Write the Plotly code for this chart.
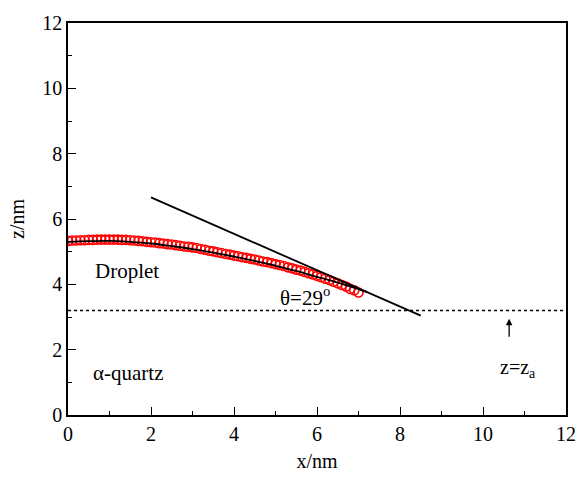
import plotly.graph_objects as go

# Simulated droplet profile (red open circles)
x_data = [0.0, 0.1, 0.2, 0.3, 0.4, 0.5, 0.6, 0.7, 0.8, 0.9,
          1.0, 1.1, 1.2, 1.3, 1.4, 1.5, 1.6, 1.7, 1.8, 1.9,
          2.0, 2.1, 2.2, 2.3, 2.4, 2.5, 2.6, 2.7, 2.8, 2.9,
          3.0, 3.1, 3.2, 3.3, 3.4, 3.5, 3.6, 3.7, 3.8, 3.9,
          4.0, 4.1, 4.2, 4.3, 4.4, 4.5, 4.6, 4.7, 4.8, 4.9,
          5.0, 5.1, 5.2, 5.3, 5.4, 5.5, 5.6, 5.7, 5.8, 5.9,
          6.0, 6.1, 6.2, 6.3, 6.4, 6.5, 6.6, 6.7, 6.8, 6.9, 7.0]
z_data = [5.33, 5.34, 5.34, 5.35, 5.35, 5.36, 5.36, 5.37, 5.37, 5.37,
          5.37, 5.37, 5.37, 5.36, 5.36, 5.35, 5.34, 5.33, 5.32, 5.30,
          5.29, 5.28, 5.26, 5.25, 5.23, 5.22, 5.20, 5.18, 5.16, 5.15,
          5.13, 5.11, 5.08, 5.06, 5.03, 5.01, 4.98, 4.96, 4.93, 4.91,
          4.88, 4.86, 4.83, 4.81, 4.78, 4.76, 4.73, 4.70, 4.68, 4.65,
          4.62, 4.59, 4.56, 4.52, 4.49, 4.45, 4.42, 4.38, 4.34, 4.30,
          4.26, 4.22, 4.17, 4.13, 4.08, 4.03, 3.98, 3.93, 3.86, 3.82, 3.75]

# Circle fit of the profile (black line)
x_fit = [0.0, 0.5, 1.0, 1.5, 2.0, 2.5, 3.0, 3.5, 4.0, 4.5, 5.0, 5.5, 6.0, 6.5, 7.0, 7.2]
z_fit = [5.30, 5.32, 5.33, 5.30, 5.25, 5.17, 5.08, 4.97, 4.85, 4.72, 4.57, 4.41, 4.23, 4.05, 3.85, 3.77]

# Tangent line at the contact point
x_tan = [2.0, 8.5]
z_tan = [6.66, 3.04]

# Substrate surface level z = z_a
x_surf = [0, 12]
z_surf = [3.2, 3.2]

x_ticks = [0, 2, 4, 6, 8, 10, 12]
z_ticks = [0, 2, 4, 6, 8, 10, 12]

FONT = "serif"

fig = go.Figure()
fig.add_trace(go.Scatter(x=x_surf, y=z_surf, mode="lines",
                         line=dict(color="black", width=1.5, dash="dot"), showlegend=False))
fig.add_trace(go.Scatter(x=x_data, y=z_data, mode="markers",
                         marker=dict(symbol="circle-open", size=9, color="red", line=dict(width=1.6, color="red")),
                         showlegend=False))
fig.add_trace(go.Scatter(x=x_fit, y=z_fit, mode="lines", line_shape="spline",
                         line=dict(color="black", width=1.8), showlegend=False))
fig.add_trace(go.Scatter(x=x_tan, y=z_tan, mode="lines",
                         line=dict(color="black", width=1.8), showlegend=False))

fig.add_annotation(x=0.6, y=4.4, text="Droplet", showarrow=False, xanchor="left",
                   font=dict(family=FONT, size=21, color="black"))
fig.add_annotation(x=5.72, y=3.62, text="θ=29<sup>o</sup>", showarrow=False,
                   font=dict(family=FONT, size=21, color="black"))
fig.add_annotation(x=0.55, y=1.28, text="α-quartz", showarrow=False, xanchor="left",
                   font=dict(family=FONT, size=21, color="black"))
fig.add_annotation(x=10.85, y=1.42, text="z=z<sub>a</sub>", showarrow=False,
                   font=dict(family=FONT, size=20, color="black"))
fig.add_annotation(x=10.63, y=2.95, ax=10.63, ay=2.35, xref="x", yref="y", axref="x", ayref="y",
                   text="", showarrow=True, arrowhead=2, arrowsize=1, arrowwidth=1.3, arrowcolor="black")

axis_common = dict(showline=True, linecolor="black", linewidth=1.5, mirror=True,
                   ticks="inside", ticklen=8, tickwidth=1.2, tickcolor="black",
                   showgrid=False, zeroline=False,
                   tickfont=dict(family=FONT, size=20, color="black"),
                   minor=dict(ticks="inside", ticklen=4, tickwidth=1.2, tickcolor="black", dtick=1))

fig.update_xaxes(range=[0, 12], tickvals=x_ticks, title=dict(text="x/nm", font=dict(family=FONT, size=20, color="black"), standoff=10),
                 **axis_common)
fig.update_yaxes(range=[0, 12], tickvals=z_ticks, title=dict(text="z/nm", font=dict(family=FONT, size=20, color="black"), standoff=12),
                 **axis_common)

fig.update_layout(width=588, height=481, margin=dict(l=68, r=19, t=14, b=63),
                  font=dict(family=FONT, color="black"),
                  plot_bgcolor="white", paper_bgcolor="white", showlegend=False)

fig.write_html("out.html")
